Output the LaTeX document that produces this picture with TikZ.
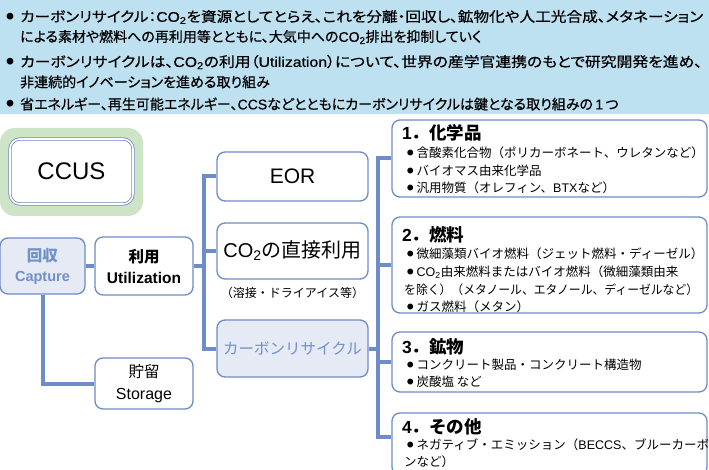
\documentclass[tikz,border=0pt]{standalone}
\usepackage{fontspec}
\usepackage{graphicx}
\setmainfont{Noto Sans CJK JP}
\newfontfamily\hdfont{Noto Sans CJK JP}[RawFeature={+palt},FakeBold=0.6]
\newfontfamily\lat{Liberation Sans}
\newfontfamily\hlat{Liberation Sans}[FakeBold=0.6]
\usetikzlibrary{calc}
\definecolor{hdbg}{HTML}{BEE1F2}
\definecolor{lnblue}{HTML}{6E8CC8}
\definecolor{ccusgreen}{HTML}{CDE4C6}
\definecolor{capfill}{HTML}{E6EAF5}
\definecolor{captext}{HTML}{7090CC}
\newcommand\jfull[2]{\resizebox{#1}{\height}{#2}}
\newcommand\bl{\raisebox{1.8pt}{\fontsize{6.5}{7}\selectfont ●}\hspace{3pt}}
\newcommand\cotwo{{\lat CO\textsubscript{2}}}
\newcommand\cotwoh{{\hlat CO\textsubscript{2}}}
\begin{document}
\begin{tikzpicture}[x=1pt,y=-1pt,
  box/.style={draw=lnblue,line width=1.3pt,rounded corners=8pt,fill=white,inner sep=0pt},
  conn/.style={draw=lnblue,line width=4pt},
  hd/.style={anchor=west,inner sep=0pt,font=\hdfont\fontsize{14}{16}\selectfont},
  hdb/.style={anchor=center,inner sep=0pt,font=\fontsize{7.5}{8}\selectfont},
  ttl/.style={anchor=west,inner sep=0pt,font=\bfseries\fontsize{17.5}{19}\selectfont},
  itm/.style={anchor=west,inner sep=0pt,font=\fontsize{12.5}{14}\selectfont},
  lbl/.style={inner sep=0pt,align=center}]
\useasboundingbox (0,0) rectangle (709,470);
\fill[white] (0,0) rectangle (709,470);
% header
\fill[hdbg] (0,0) rectangle (709,114);
\node[hdb] (hb1) at (10,17) {●};
\node[hd] (h1) at (20,17) {\jfull{683pt}{カーボンリサイクル：\cotwoh を資源としてとらえ、これを分離・回収し、鉱物化や人工光合成、メタネーション}};
\node[hd] (h1b) at (20,37) {による素材や燃料への再利用等とともに、大気中への\cotwoh 排出を抑制していく};
\node[hdb] (hb2) at (10,62) {●};
\node[hd] (h2) at (20,62) {\jfull{682pt}{カーボンリサイクルは、\cotwoh の利用（{\hlat Utilization}）について、世界の産学官連携のもとで研究開発を進め、}};
\node[hd] (h2b) at (20,82) {非連続的イノベーションを進める取り組み};
\node[hdb] (hb3) at (10,104) {●};
\node[hd] (h3) at (20,104) {省エネルギー、再生可能エネルギー、{\hlat CCS}などとともにカーボンリサイクルは鍵となる取り組みの{\hlat\,1\,}つ};
% CCUS
\node[fill=ccusgreen,rounded corners=15pt,minimum width=143pt,minimum height=88pt,inner sep=0pt] (ccusbg) at (71.5,172) {};
\node[draw=lnblue,line width=0.8pt,double=white,double distance=1.6pt,rounded corners=10pt,fill=white,minimum width=123pt,minimum height=65pt,inner sep=0pt,font=\lat\fontsize{24}{26}\selectfont] (ccus) at (71.5,171.5) {CCUS};
% left boxes
\node[box,fill=capfill,text=captext,minimum width=85pt,minimum height=56pt,lbl,font=\bfseries\fontsize{15.5}{20}\selectfont] (cap) at (42.5,266) {回収\\{\lat\fontsize{14.5}{20}\selectfont Capture}};
\node[box,minimum width=98pt,minimum height=58pt,lbl,font=\bfseries\fontsize{15.5}{21}\selectfont] (util) at (144,266) {利用\\{\lat\fontsize{15.5}{21}\selectfont Utilization}};
\node[box,minimum width=98pt,minimum height=51pt,lbl,font=\fontsize{15.5}{22}\selectfont] (stor) at (144,383.5) {貯留\\{\lat\fontsize{16}{22}\selectfont Storage}};
% middle boxes
\node[box,minimum width=151pt,minimum height=49pt,font=\lat\fontsize{21}{23}\selectfont] (eor) at (292.5,176.5) {EOR};
\node[box,minimum width=151pt,minimum height=56pt,font=\fontsize{20}{22}\selectfont] (co2) at (292.5,251) {\cotwo の直接利用};
\node[inner sep=0pt,font=\fontsize{12}{14}\selectfont] (co2n) at (292.5,293) {（溶接・ドライアイス等）};
\node[box,fill=capfill,text=captext,minimum width=151pt,minimum height=57pt,font=\fontsize{15.5}{18}\selectfont] (cr) at (292.5,348.5) {カーボンリサイクル};
% right boxes
\node[box,minimum width=315pt,minimum height=77pt] (c1) at (549.5,158.5) {};
\node[box,minimum width=315pt,minimum height=96pt] (c2) at (549.5,265) {};
\node[box,minimum width=315pt,minimum height=60pt] (c3) at (549.5,362) {};
\node[box,minimum width=315pt,minimum height=62pt] (c4) at (549.5,444) {};
\node[ttl] (t1) at (402,133) {{\lat 1}．化学品};
\node[itm] (t1a) at (407,153) {\bl 含酸素化合物（ポリカーボネート、ウレタンなど）};
\node[itm] (t1b) at (407,170.5) {\bl バイオマス由来化学品};
\node[itm] (t1c) at (407,188) {\bl 汎用物質（オレフィン、{\lat BTX}など）};
\node[ttl] (t2) at (402,235) {{\lat 2}．燃料};
\node[itm] (t2a) at (407,254) {\bl 微細藻類バイオ燃料（ジェット燃料・ディーゼル）};
\node[itm] (t2b) at (407,272) {\bl \cotwo 由来燃料またはバイオ燃料（微細藻類由来};
\node[itm] (t2c) at (404,290) {\resizebox{294pt}{\height}{を除く）（メタノール、エタノール、ディーゼルなど）}};
\node[itm] (t2d) at (407,307) {\bl ガス燃料（メタン）};
\node[ttl] (t3) at (402,347) {{\lat 3}．鉱物};
\node[itm] (t3a) at (407,365) {\bl コンクリート製品・コンクリート構造物};
\node[itm] (t3b) at (407,381.5) {\bl 炭酸塩 など};
\node[ttl] (t4) at (402,427) {{\lat 4}．その他};
\node[itm] (t4a) at (407,445) {\bl ネガティブ・エミッション（{\lat BECCS}、ブルーカーボ};
\node[itm] (t4b) at (404,462) {ンなど）};
% connectors
\coordinate (bx) at (204,0);
\coordinate (rx) at (378,0);
\coordinate (c4in) at ($(c4.north west)+(0,25)$);
\draw[conn] (cap.east) -- (util.west);
\draw[conn] (cap.south) |- (stor.west);
\draw[conn] (eor.west) -| (bx |- cr.west) -- (cr.west);
\draw[conn] (util.east) -- (util.east -| bx);
\draw[conn] (co2.west) -- (co2.west -| bx);
\draw[conn] (c1.west) -| (rx |- c4in) -- (c4in);
\draw[conn] (cr.east) -- (cr.east -| rx);
\draw[conn] (c2.west) -- (c2.west -| rx);
\draw[conn] (c3.west) -- (c3.west -| rx);
\end{tikzpicture}
\end{document}
